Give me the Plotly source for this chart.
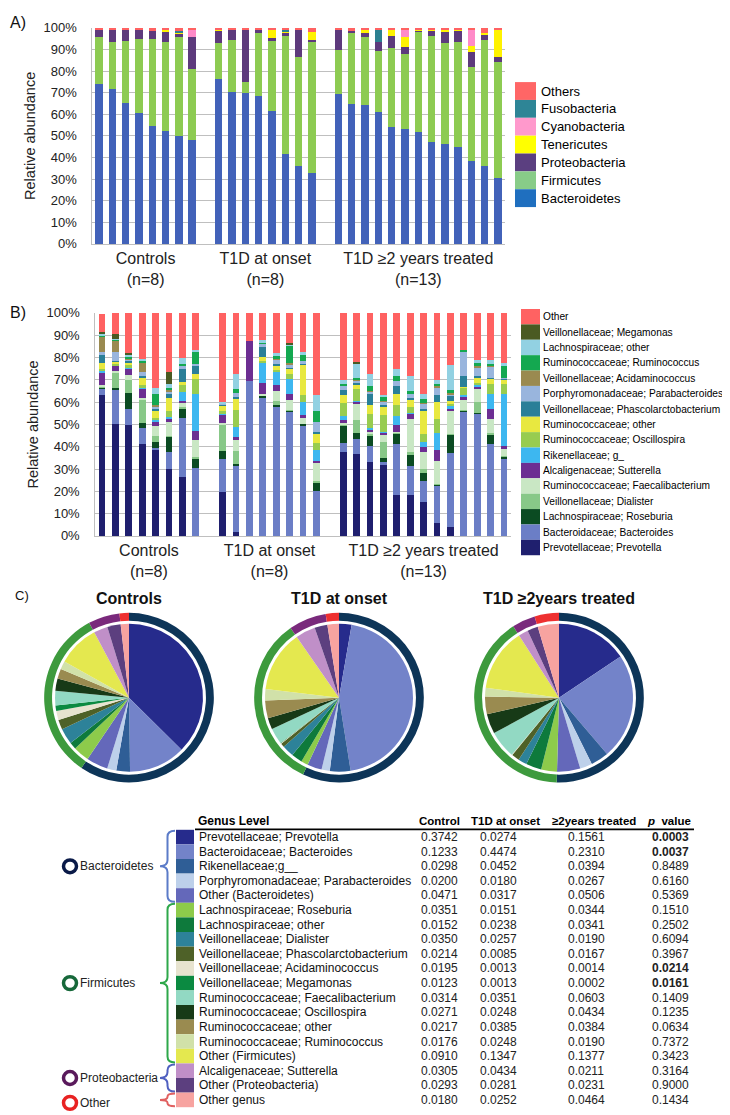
import plotly.graph_objects as go

W, H = 730, 1115


def X(px):
    return px / W


def Y(py):
    return 1 - py / H


# ---------------- Panel A data (phylum level, % per sample) ----------------
group_labels = ["Controls<br>(n=8)", "T1D at onset<br>(n=8)", "T1D ≥2 years treated<br>(n=13)"]
group_sizes = [8, 8, 13]

phyla = ["Bacteroidetes", "Firmicutes", "Proteobacteria", "Tenericutes",
         "Cyanobacteria", "Fusobacteria", "Others"]
bacteroidetes = [73.8, 71.7, 65.1, 60.6, 54.4, 52.3, 49.9, 48.1,
                 76.4, 70.5, 70.0, 68.5, 61.4, 41.8, 35.9, 33.0,
                 69.2, 64.7, 64.2, 61.0, 54.3, 53.1, 51.6, 47.0, 46.4, 44.9, 38.4, 36.1, 30.4]
firmicutes = [22.1, 21.9, 28.7, 34.4, 40.3, 41.0, 46.0, 33.0,
              16.6, 24.0, 4.9, 28.9, 32.5, 54.6, 50.7, 60.9,
              20.5, 32.7, 31.6, 28.3, 36.3, 34.7, 46.6, 49.2, 46.8, 48.7, 43.6, 58.4, 53.6]
proteobacteria = [3.4, 5.9, 5.5, 4.3, 4.0, 4.7, 1.2, 14.6,
                  6.0, 5.0, 24.6, 2.1, 1.2, 1.3, 12.6, 0.5,
                  9.8, 1.0, 1.6, 4.2, 5.6, 3.1, 0.8, 2.8, 5.3, 5.3, 6.6, 2.0, 2.6]
tenericutes = [0, 0, 0, 0, 0, 1.5, 1.0, 0,
               0.5, 0, 0, 0, 4.2, 0.8, 0, 3.8,
               0, 0, 1.8, 0, 2.6, 4.8, 0.5, 0.4, 0.5, 0.4, 3.0, 1.0, 12.3]
cyanobacteria = [0, 0, 0, 0, 0, 0, 0, 3.3,
                 0, 0, 0, 0, 0, 0, 0, 0,
                 0, 0, 0, 0, 0, 3.8, 0, 0, 0, 0, 7.9, 0, 0]
fusobacteria = [0, 0, 0, 0, 0, 0, 0.5, 0,
                0, 0, 0, 0, 0, 0.8, 0, 0,
                0, 0, 0, 6.0, 0, 0, 0, 0, 0, 0, 0, 0, 0]
others_phyla = [0.7, 0.5, 0.7, 0.7, 1.3, 0.5, 1.4, 1.0,
                0.5, 0.5, 0.5, 0.5, 0.7, 0.7, 0.8, 1.8,
                0.5, 1.6, 0.8, 0.5, 1.2, 0.5, 0.5, 0.6, 1.0, 0.7, 0.5, 2.5, 1.1]
phyla_values = [bacteroidetes, firmicutes, proteobacteria, tenericutes,
                cyanobacteria, fusobacteria, others_phyla]
phyla_bar_colors = ["#4262B9", "#8DCB52", "#5D3A7C", "#FFF200", "#FF8AC8", "#2C8090", "#FF6262"]
phyla_legend_colors = ["#1F6FBF", "#88CC88", "#5B3F80", "#FFFF00", "#FF99CC", "#2E8596", "#FF6666"]

# ---------------- Panel B data (genus level, % per sample) ----------------
genera_b = ["Prevotellaceae; Prevotella", "Bacteroidaceae; Bacteroides", "Lachnospiraceae; Roseburia",
            "Veillonellaceae; Dialister", "Ruminococcaceae; Faecalibacterium", "Alcaligenaceae; Sutterella",
            "Rikenellaceae; g_", "Ruminococcaceae; Oscillospira", "Ruminococcaceae; other",
            "Veillonellaceae; Phascolarctobacterium", "Porphyromonadaceae; Parabacteroides",
            "Veillonellaceae; Acidaminococcus", "Ruminococcaceae; Ruminococcus",
            "Lachnospiraceae; other", "Veillonellaceae; Megamonas", "Other"]
prevotella_b = [63, 50, 49.6, 41, 38.5, 30, 26.2, 0,
                19.8, 1.8, 0, 0, 0, 0, 0, 0,
                37.8, 36.8, 33.1, 32, 18.4, 18.4, 15.4, 5.7, 4, 0, 0, 0, 0]
bacteroides_b = [3, 15.8, 7.4, 7.6, 1, 7.5, 26.8, 30.5,
                 14.7, 30, 69.6, 62.3, 58.2, 55.7, 49.4, 20,
                 4, 6.5, 7, 1, 22.7, 12.8, 9.2, 17, 33.1, 55.8, 55, 41.1, 34.6]
roseburia_b = [.5, .7, 7, 1.9, 2.5, 7, 4, 4.3,
               3.5, .5, 0, .5, .3, .5, 1, 4,
               7.8, 2.9, 5.1, 1.9, 4.9, 5.2, 3.7, .5, 8.4, .3, .3, 4.1, 1]
dialister_b = [.5, 7, 6, 10.5, 3, .5, 1, .7,
               12, 5.7, 0, .3, 2, .3, 0, .5,
               .3, 5.6, .3, 7.4, .2, 1.4, 1.5, .2, .3, .3, 4.6, 1, .3]
faecalibacterium_b = [.5, .5, 2.3, 1, 4.5, 6, 1.5, 7.5,
                      .6, 5, 0, .5, 4.5, 4.5, 2.8, 8.5,
                      1.2, 7.4, 1.2, 2.9, .5, 14.8, 8, 10.3, 10, 4.6, 6.1, 6.4, 3]
sutterella_b = [6, 2.3, 2.7, 4, 1.5, 1.5, 1, 4,
                3.7, 1.5, 17.9, 5, 2.5, 2.5, .8, .5,
                .7, 1.2, 1, 1, 2.9, 2.2, 2.2, 4.7, 1.2, 1.4, 1.2, 4.4, 1.5]
rikenellaceae_b = [.5, .3, .3, .5, 1, 1, 4, 16.5,
                   .5, 4.3, 0, 9, 6, 7, 6, 5,
                   1.8, .3, .5, .5, 4.2, .3, 2.2, 7.6, 1.2, .8, .5, 6.6, 23.2]
oscillospira_b = [1, .5, 1.2, 1, 1, 2.5, 3, 7,
                  1, 7.7, 0, 1, 1, 2, 3, 3,
                  6.2, 5, 6.6, 7.3, 4.7, 2.6, 3.7, 6.4, 1.4, 3.3, 1, 4.4, 4.7]
rum_other_b = [2.5, 1, 1, 3.5, 3, 6, 1.5, 2,
               2.5, 5, 0, 1.5, 2, 2.5, 14, 4.5,
               3.6, 2.3, 3.7, 3.7, 5.1, 3.7, 10.3, 7.8, .8, .5, 2.5, 2.5, 1.9]
phascolarcto_b = [3.5, .5, 1, .5, 1, 1.5, 6, 3.5,
                  .5, 1, 0, 4.5, .5, .5, .5, .5,
                  2.2, .5, 5.1, 1, 3.7, .3, .5, 2.9, 2.5, 4.5, .5, .5, .3]
parabacteroides_b = [1.5, 4, .8, 2, 1, 1.5, 1.5, 1,
                     .5, 1.5, 0, 1.5, 2, 1.5, .8, 4.5,
                     2, 1.3, 1.2, 1.5, 2.2, 1.9, 2.5, 3.7, .5, 11.2, 4, 5.1, .5]
acidaminococcus_b = [7, 5, .5, 4.5, .5, .5, 0, 0,
                     0, 0, 0, 0, .5, .5, 0, 0,
                     0, .5, .3, .5, 0, 0, .5, .3, .5, 0, .5, .3, 0]
ruminococcus_b = [.5, .3, .8, .8, 5, 1, .5, 5.5,
                  0, 2, 0, .4, 1, 8, 3, 5,
                  .5, .5, 2, 1.4, 2.2, 1.5, 1.5, 1.2, 1.5, .8, 1.5, .7, 5.1]
lachno_other_b = [.5, .3, .6, .7, 3, 1.5, 3, 1,
                  .7, 6.5, 0, 1.5, 1.5, .5, 1.2, 7,
                  1.6, 6.5, 5.7, 1.1, 3, 6.6, 2.6, 1.7, 11.2, 0, 1.2, 2, 1.5]
megamonas_b = [1, 2.5, 1, 0, 0, 5.5, 0, 0,
               0, 0, 0, 0, 0, .5, 0, 0,
               0, .8, 0, 0, 0, 0, 0, 0, 0, 0, 0, 0, 0]
other_b = [8, 9.3, 17.8, 20.5, 33.5, 26.5, 20, 16.5,
           40, 27.5, 12.5, 12, 18, 13.5, 17.5, 37,
           30.3, 21.9, 27.2, 36.8, 25.3, 28.3, 36.2, 30, 23.4, 16.5, 21.1, 20.9, 22.4]
genera_b_values = [prevotella_b, bacteroides_b, roseburia_b, dialister_b, faecalibacterium_b,
                   sutterella_b, rikenellaceae_b, oscillospira_b, rum_other_b, phascolarcto_b,
                   parabacteroides_b, acidaminococcus_b, ruminococcus_b, lachno_other_b,
                   megamonas_b, other_b]
genera_b_colors = ["#1F1F6E", "#6B7EC6", "#0B4B22", "#88C888", "#C9E7C4", "#6C2E92",
                   "#3DB7F0", "#98CC50", "#E8E840", "#2A7F98", "#99B5DD", "#9A8A50",
                   "#14A850", "#92D1E2", "#4A5A22", "#FF6262"]

# ---------------- Panel C / table data (mean relative abundance) ----------------
genus_names = ["Prevotellaceae; Prevotella", "Bacteroidaceae; Bacteroides", "Rikenellaceae;g__",
               "Porphyromonadaceae; Parabacteroides", "Other (Bacteroidetes)",
               "Lachnospiraceae; Roseburia", "Lachnospiraceae; other", "Veillonellaceae; Dialister",
               "Veillonellaceae; Phascolarctobacterium", "Veillonellaceae; Acidaminococcus",
               "Veillonellaceae; Megamonas", "Ruminococcaceae; Faecalibacterium",
               "Ruminococcaceae; Oscillospira", "Ruminococcaceae; other",
               "Ruminococcaceae; Ruminococcus", "Other (Firmicutes)", "Alcaligenaceae; Sutterella",
               "Other (Proteobacteria)", "Other genus"]
control_mean = [0.3742, 0.1233, 0.0298, 0.0200, 0.0471, 0.0351, 0.0152, 0.0350, 0.0214, 0.0195,
                0.0123, 0.0314, 0.0271, 0.0217, 0.0176, 0.0910, 0.0305, 0.0293, 0.0180]
onset_mean = [0.0274, 0.4474, 0.0452, 0.0180, 0.0317, 0.0151, 0.0238, 0.0257, 0.0085, 0.0013,
              0.0013, 0.0351, 0.0248, 0.0385, 0.0248, 0.1347, 0.0434, 0.0281, 0.0252]
treated_mean = [0.1561, 0.2310, 0.0394, 0.0267, 0.0506, 0.0344, 0.0341, 0.0190, 0.0167, 0.0014,
                0.0002, 0.0603, 0.0434, 0.0384, 0.0190, 0.1377, 0.0211, 0.0231, 0.0464]
p_values = [0.0003, 0.0037, 0.8489, 0.6160, 0.5369, 0.1510, 0.2502, 0.6094, 0.3967, 0.0214,
            0.0161, 0.1409, 0.1235, 0.0634, 0.7372, 0.3423, 0.3164, 0.9000, 0.1434]
genus_phylum = (["Bacteroidetes"] * 5 + ["Firmicutes"] * 11 + ["Proteobacteria"] * 2 + ["Other"])
genus_colors = ["#262B8C", "#7383C9", "#2F5E96", "#BDD0EA", "#6468BA", "#8DCB4B", "#0E7A3C",
                "#2D8299", "#4E6128", "#E7E3CF", "#0B8A41", "#92D9C3", "#173A17", "#9A8B50",
                "#D1E1A9", "#E4E84F", "#C08FC8", "#5C3F7F", "#F7A3A0"]
ring_phyla = ["Bacteroidetes", "Firmicutes", "Proteobacteria", "Other"]
ring_colors = ["#0D3558", "#3D9A3D", "#7A2A7C", "#EE3030"]
icon_colors = ["#0A1A48", "#17683A", "#5A1A5C", "#E82222"]
brace_colors = ["#5B7BC8", "#2EA84A", "#5060C0", "#E06060"]
pie_titles = ["Controls", "T1D at onset", "T1D ≥2years treated"]
pie_groups = [control_mean, onset_mean, treated_mean]
table_headers = ["<b>Control</b>", "<b>T1D at onset</b>", "<b>≥2years treated</b>", "<b><i>p</i>  value</b>"]

FONT = "Liberation Sans, Arial, sans-serif"

slots = []
start = 0
for n in group_sizes:
    slots += list(range(start, start + n))
    start += n + 1
group_centers = []
start = 0
for n in group_sizes:
    group_centers.append(start + (n - 1) / 2)
    start += n + 1

fig = go.Figure()

# Panel A bars
for name, vals, col in zip(phyla, phyla_values, phyla_bar_colors):
    fig.add_trace(go.Bar(x=slots, y=vals, name=name, width=0.55,
                         marker=dict(color=col, line=dict(width=0)),
                         xaxis="x", yaxis="y", showlegend=False))
# Panel B bars
for name, vals, col in zip(genera_b, genera_b_values, genera_b_colors):
    fig.add_trace(go.Bar(x=slots, y=vals, name=name, width=0.52,
                         marker=dict(color=col, line=dict(width=0)),
                         xaxis="x2", yaxis="y2", showlegend=False))

# Panel C pies
pie_cx = [121, 331, 551]
pie_cy = 692
R_OUT, R_RING_IN, R_PIE = 86, 78, 75
annotations = []
shapes = []
for cx, vals, title in zip(pie_cx, pie_groups, pie_titles):
    fig.add_trace(go.Pie(values=vals, labels=genus_names, sort=False, direction="clockwise",
                         rotation=0, textinfo="none", showlegend=False,
                         marker=dict(colors=genus_colors, line=dict(width=0)),
                         domain=dict(x=[X(cx - R_PIE), X(cx + R_PIE)],
                                     y=[Y(pie_cy + R_PIE), Y(pie_cy - R_PIE)])))
    totals = [sum(v for v, p in zip(vals, genus_phylum) if p == ph) for ph in ring_phyla]
    fig.add_trace(go.Pie(values=totals, labels=ring_phyla, sort=False, direction="clockwise",
                         rotation=0, textinfo="none", showlegend=False, hole=R_RING_IN / R_OUT,
                         marker=dict(colors=ring_colors, line=dict(width=0)),
                         domain=dict(x=[X(cx - R_OUT), X(cx + R_OUT)],
                                     y=[Y(pie_cy + R_OUT), Y(pie_cy - R_OUT)])))
    annotations.append(dict(x=X(cx), y=Y(591), xref="paper", yref="paper", text=f"<b>{title}</b>",
                            showarrow=False, font=dict(family=FONT, size=16, color="#111"),
                            xanchor="center", yanchor="middle"))

# Panel labels
for txt, px, py, sz in [("A)", 10, 8, 16), ("B)", 10, 302, 16), ("C)", 14, 588, 13)]:
    annotations.append(dict(x=X(px), y=Y(py), xref="paper", yref="paper", text=txt, showarrow=False,
                            font=dict(family=FONT, size=sz, color="#111"), xanchor="center",
                            yanchor="middle"))

# Manual legend A
legA_top, legA_h = 68, 18.1
for i, (name, col) in enumerate(zip(phyla[::-1], phyla_legend_colors[::-1])):
    y0 = legA_top + i * legA_h
    shapes.append(dict(type="rect", xref="paper", yref="paper", x0=X(507), x1=X(528),
                       y0=Y(y0 + legA_h), y1=Y(y0), fillcolor=col, line=dict(width=0)))
    annotations.append(dict(x=X(531), y=Y(y0 + legA_h / 2), xref="paper", yref="paper", text=name,
                            showarrow=False, xanchor="left", yanchor="middle",
                            font=dict(family=FONT, size=13, color="#000")))

# Manual legend B
legB_top, legB_h = 298, 15.6
for i, (name, col) in enumerate(zip(genera_b[::-1], genera_b_colors[::-1])):
    y0 = legB_top + i * legB_h
    shapes.append(dict(type="rect", xref="paper", yref="paper", x0=X(513), x1=X(532),
                       y0=Y(y0 + legB_h), y1=Y(y0), fillcolor=col, line=dict(width=0)))
    annotations.append(dict(x=X(533), y=Y(y0 + legB_h / 2), xref="paper", yref="paper", text=name,
                            showarrow=False, xanchor="left", yanchor="middle",
                            font=dict(family=FONT, size=10.2, color="#000")))

# Table
row0, row_h = 833.3, 14.8
col_x = [431, 490, 578, 662]
hdr_x = [431, 497, 586, 661]
hdr_y = 817
annotations.append(dict(x=X(188), y=Y(hdr_y), xref="paper", yref="paper", text="<b>Genus Level</b>",
                        showarrow=False, xanchor="left", yanchor="middle",
                        font=dict(family=FONT, size=12, color="#000")))
for txt, cx in zip(table_headers, hdr_x):
    annotations.append(dict(x=X(cx), y=Y(hdr_y), xref="paper", yref="paper", text=txt,
                            showarrow=False, xanchor="center", yanchor="middle",
                            font=dict(family=FONT, size=11.5, color="#000")))
shapes.append(dict(type="line", xref="paper", yref="paper", x0=X(187), x1=X(686),
                   y0=Y(825.5), y1=Y(825.5), line=dict(color="#000", width=1.6)))
for i, name in enumerate(genus_names):
    yc = row0 + i * row_h
    shapes.append(dict(type="rect", xref="paper", yref="paper", x0=X(168), x1=X(186),
                       y0=Y(yc + row_h / 2), y1=Y(yc - row_h / 2), fillcolor=genus_colors[i],
                       line=dict(width=0)))
    annotations.append(dict(x=X(189), y=Y(yc), xref="paper", yref="paper", text=name,
                            showarrow=False, xanchor="left", yanchor="middle",
                            font=dict(family=FONT, size=12, color="#111")))
    row_vals = [f"{control_mean[i]:.4f}", f"{onset_mean[i]:.4f}", f"{treated_mean[i]:.4f}",
                (f"<b>{p_values[i]:.4f}</b>" if p_values[i] < 0.05 else f"{p_values[i]:.4f}")]
    for txt, cx in zip(row_vals, col_x):
        annotations.append(dict(x=X(cx), y=Y(yc), xref="paper", yref="paper", text=txt,
                                showarrow=False, xanchor="center", yanchor="middle",
                                font=dict(family=FONT, size=12, color="#222")))


def brace(x_tip, x_end, y_top, y_bot, y_mid, r=5):
    xm = (x_tip + x_end) / 2
    r1 = min(r, (y_mid - y_top) / 2)
    r2 = min(r, (y_bot - y_mid) / 2)
    pts = [
        f"M {X(x_end)},{Y(y_top)}",
        f"Q {X(xm)},{Y(y_top)} {X(xm)},{Y(y_top + r1)}",
        f"L {X(xm)},{Y(y_mid - r1)}",
        f"Q {X(xm)},{Y(y_mid)} {X(x_tip)},{Y(y_mid)}",
        f"Q {X(xm)},{Y(y_mid)} {X(xm)},{Y(y_mid + r2)}",
        f"L {X(xm)},{Y(y_bot - r2)}",
        f"Q {X(xm)},{Y(y_bot)} {X(x_end)},{Y(y_bot)}",
    ]
    return " ".join(pts)


# group braces, icons and phylum names
for k, ph in enumerate(ring_phyla):
    idx = [i for i, p in enumerate(genus_phylum) if p == ph]
    y_top = row0 + idx[0] * row_h - row_h / 2 + 1
    y_bot = row0 + idx[-1] * row_h + row_h / 2 - 1
    y_mid = (y_top + y_bot) / 2
    shapes.append(dict(type="path", xref="paper", yref="paper",
                       path=brace(152, 167, y_top, y_bot, y_mid, r=6 if len(idx) > 1 else 3),
                       line=dict(color=brace_colors[k], width=2)))
    icon_y = y_mid + (3 if ph == "Other" else 0)
    shapes.append(dict(type="circle", xref="paper", yref="paper", x0=X(55.5), x1=X(68.5),
                       y0=Y(icon_y + 6.5), y1=Y(icon_y - 6.5), fillcolor="white",
                       line=dict(color=icon_colors[k], width=3.5)))
    annotations.append(dict(x=X(70), y=Y(icon_y), xref="paper", yref="paper", text=ph,
                            showarrow=False, xanchor="left", yanchor="middle",
                            font=dict(family=FONT, size=12, color="#222")))

pct_vals = list(range(0, 101, 10))
pct_text = [f"{v}%" for v in pct_vals]
axis_common = dict(showgrid=False, zeroline=False, ticks="", showline=True, linecolor="#BFBFBF",
                   tickmode="array", tickvals=group_centers, ticktext=group_labels,
                   tickfont=dict(family=FONT, size=16, color="#222"), range=[-0.5, 30.5],
                   fixedrange=True)
yaxis_common = dict(range=[0, 100], tickmode="array", tickvals=pct_vals, ticktext=pct_text,
                    showgrid=True, gridcolor="#BFBFBF", gridwidth=1,
                    zeroline=False, showline=True, linecolor="#BFBFBF",
                    tickfont=dict(family=FONT, size=13, color="#222"), ticklabelstandoff=12,
                    title=dict(text="Relative abundance", font=dict(family=FONT, size=14.5, color="#222"),
                               standoff=4), fixedrange=True)

fig.update_layout(
    width=W, height=H, margin=dict(l=0, r=0, t=0, b=0), paper_bgcolor="white",
    plot_bgcolor="white", barmode="stack", bargap=0.4,
    xaxis=dict(domain=[X(84.4), X(496.7)], anchor="y", **axis_common),
    yaxis=dict(domain=[Y(232), Y(13)], anchor="x", **yaxis_common),
    xaxis2=dict(domain=[X(87.3), X(502.7)], anchor="y2", **axis_common),
    yaxis2=dict(domain=[Y(528), Y(302)], anchor="x2", **yaxis_common),
    annotations=annotations, shapes=shapes, showlegend=False,
)

fig.write_html("out.html")
